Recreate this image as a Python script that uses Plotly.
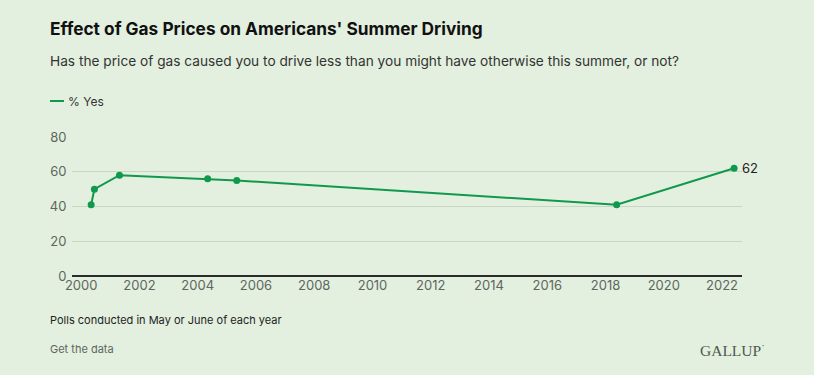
import plotly.graph_objects as go

dates = ["2000-05-05", "2000-06-15", "2001-04-25", "2004-05-05", "2005-05-05", "2018-05-20", "2022-06-01"]
pct_yes = [41, 50, 58, 56, 55, 41, 62]
series_name = "% Yes"
x_ticks = [str(y) for y in range(2000, 2023, 2)]
y_ticks = [0, 20, 40, 60, 80]

BG = "#e3f0df"
GREEN = "#10994d"
TXT = "#222222"
GRAY = "#5e6660"

fig = go.Figure()
fig.add_trace(go.Scatter(
    x=dates, y=pct_yes, mode="lines+markers", name=series_name,
    line=dict(color=GREEN, width=2),
    marker=dict(color=GREEN, size=7),
    cliponaxis=False, showlegend=False,
))
# end label for last value
fig.add_annotation(x=dates[-1], y=pct_yes[-1], text=str(pct_yes[-1]),
                   xanchor="left", yanchor="middle", xshift=6, showarrow=False,
                   font=dict(family="Inter, Roboto, sans-serif", size=13, color=TXT))

fig.update_layout(
    width=814, height=375,
    paper_bgcolor=BG, plot_bgcolor=BG,
    margin=dict(l=72, r=72, t=137, b=99),
    font=dict(family="Inter, Roboto, sans-serif", color=GRAY, size=13),
    xaxis=dict(
        type="date",
        range=["1999-09-08", "2022-09-08"],
        tickvals=[f"{y}-01-01" for y in x_ticks],
        ticktext=x_ticks,
        showgrid=False, zeroline=False,
        showline=False,
        tickfont=dict(size=13, color=GRAY),
        ticks="", ticklen=0,
    ),
    yaxis=dict(
        range=[0, 80],
        tickvals=y_ticks,
        showgrid=True, gridcolor="#c9d6c6", gridwidth=1,
        zeroline=True, zerolinecolor="#2b2b2b", zerolinewidth=1.5,
        showline=False,
        tickfont=dict(size=13, color=GRAY),
        ticks="outside", ticklen=2, tickcolor="rgba(0,0,0,0)",
    ),
    showlegend=False,
)

fig.add_annotation(xref="paper", yref="paper", x=(48 - 72) / 670, y=1.0 + (137 - 28) / 139,
                   xanchor="left", yanchor="middle", showarrow=False,
                   text="<b>Effect of Gas Prices on Americans' Summer Driving</b>",
                   font=dict(size=17.3, color="#111111"))
fig.add_annotation(xref="paper", yref="paper", x=(48 - 72) / 670, y=1.0 + (137 - 61) / 139,
                   xanchor="left", yanchor="middle", showarrow=False,
                   text="Has the price of gas caused you to drive less than you might have otherwise this summer, or not?",
                   font=dict(size=13.7, color="#333333"))
# legend
fig.add_shape(type="line", xref="paper", yref="paper",
              x0=(50 - 72) / 670, x1=(64 - 72) / 670,
              y0=1.0 + (137 - 101) / 139, y1=1.0 + (137 - 101) / 139,
              line=dict(color=GREEN, width=2))
fig.add_annotation(xref="paper", yref="paper", x=(66 - 72) / 670, y=1.0 + (137 - 101) / 139,
                   xanchor="left", yanchor="middle", showarrow=False,
                   text=series_name, font=dict(size=12, color="#333333"))
# footnotes
fig.add_annotation(xref="paper", yref="paper", x=(48 - 72) / 670, y=-(320 - 276) / 139,
                   xanchor="left", yanchor="middle", showarrow=False,
                   text="Polls conducted in May or June of each year",
                   font=dict(size=11, color="#222222"))
fig.add_annotation(xref="paper", yref="paper", x=(48 - 72) / 670, y=-(349 - 276) / 139,
                   xanchor="left", yanchor="middle", showarrow=False,
                   text="Get the data",
                   font=dict(size=11, color=GRAY))
fig.add_annotation(xref="paper", yref="paper", x=(767 - 72) / 670, y=-(349 - 276) / 139,
                   xanchor="right", yanchor="middle", showarrow=False,
                   text="GALLUP<sup>·</sup>",
                   font=dict(family="Liberation Serif, serif", size=15.5, color="#4d5a50"))

fig.write_html("out.html", config={"displayModeBar": False},
               post_script="document.body.style.margin='0';document.body.style.overflow='hidden';")
